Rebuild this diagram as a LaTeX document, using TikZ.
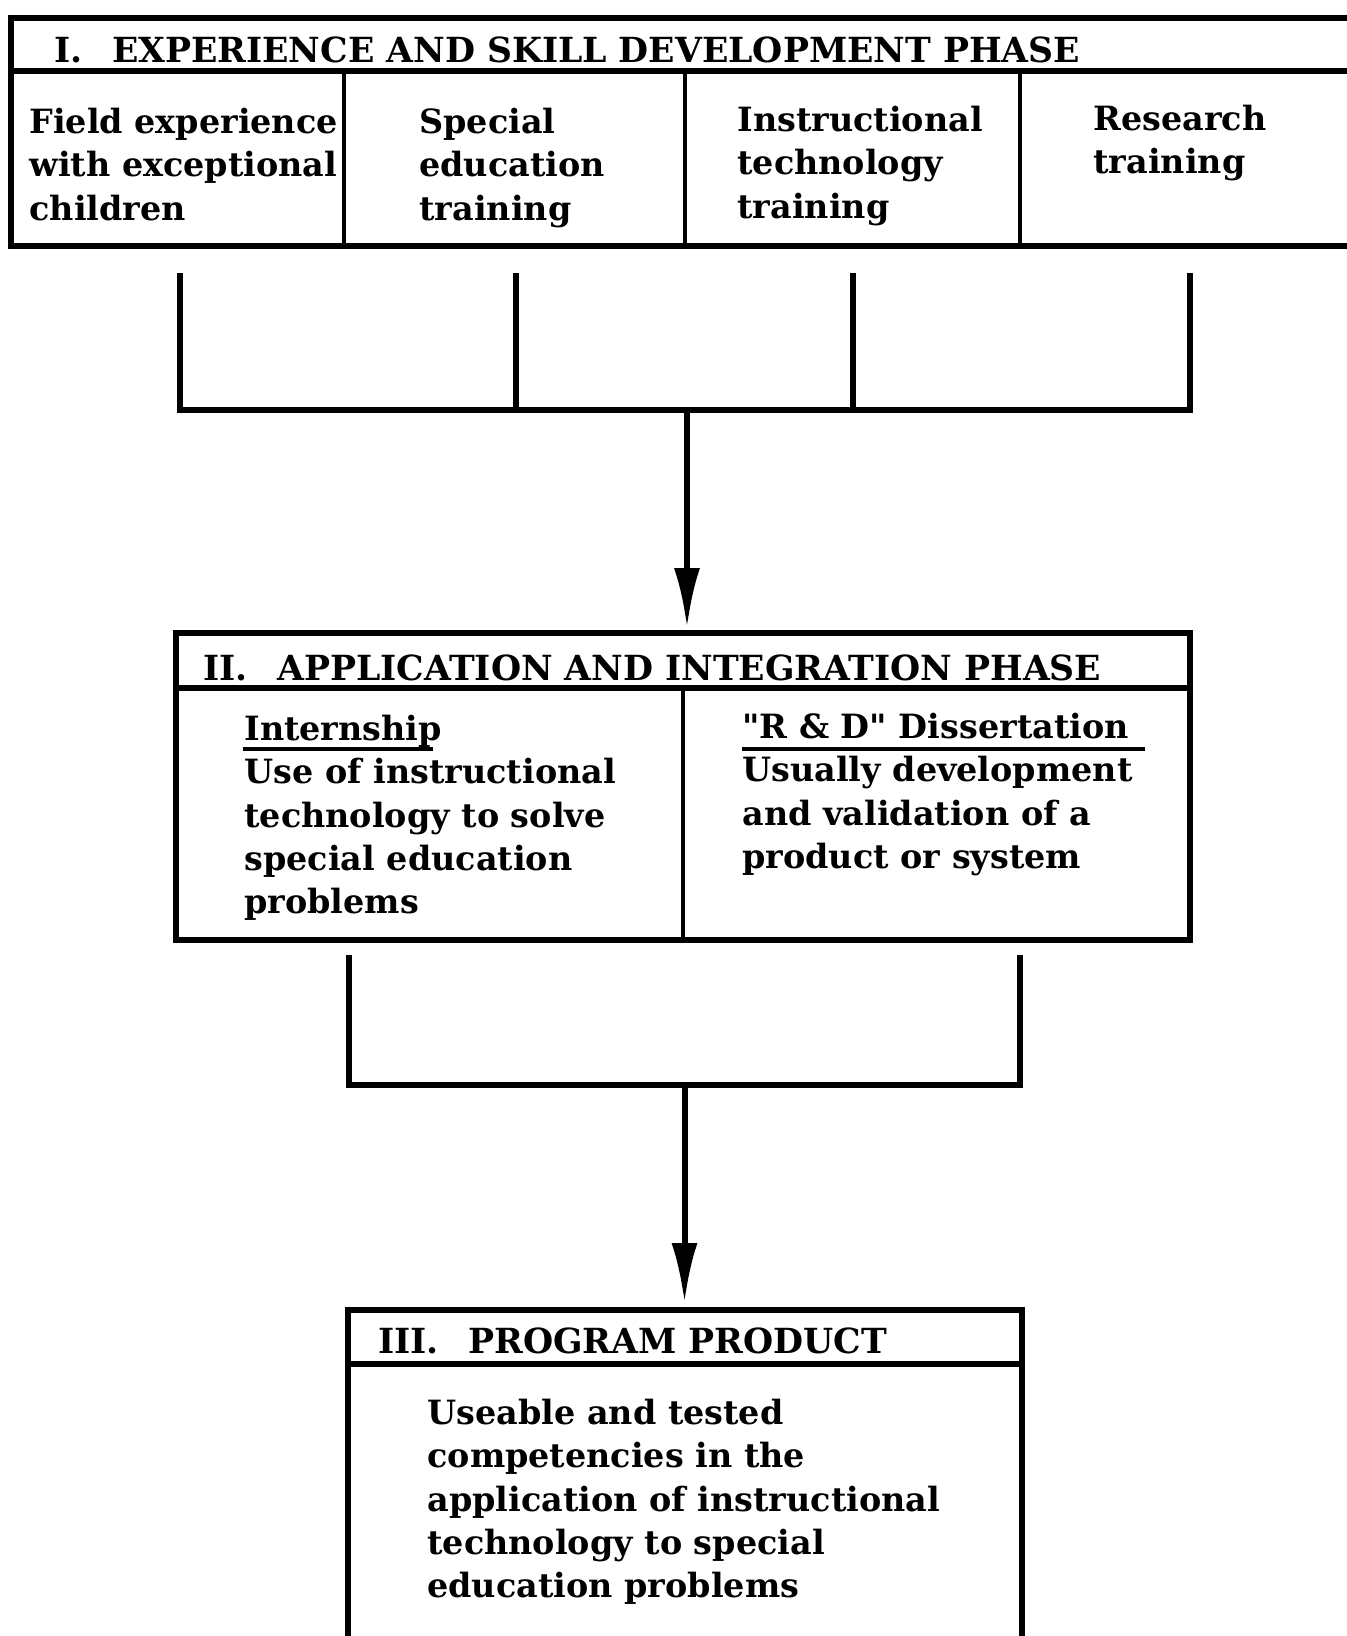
\documentclass[tikz,border=0pt]{standalone}
\usepackage{fontspec}
\setmainfont{DejaVu Serif}[Ligatures=TeXOff]
\usepackage{tikz}
\usetikzlibrary{arrows.meta,positioning,calc,fit}
\newcommand{\hdrfont}{\bfseries\fontsize{17.3}{22}\selectfont}
\newcommand{\txtfont}{\bfseries\fontsize{16.7}{21.6}\selectfont}
\newcommand{\numgap}{\hspace{0.85em}}
\tikzset{phase/.style={draw,line width=3pt,inner sep=0pt},rule/.style={line width=2.6pt},divider/.style={line width=2pt},hdr/.style={anchor=base west,inner sep=0pt,font=\hdrfont},txt/.style={anchor=north west,inner sep=0pt,align=left,font=\txtfont},link/.style={line width=3pt},arr/.style={link,-{Latex[length=30pt,width=13pt]}},uline/.style={line width=2pt}}
\begin{document}
\begin{tikzpicture}[x=0.5pt,y=-0.5pt]
\clip (0,0) rectangle (1347,1636);
\node[phase,fit={(11,18) (1365,246)}] (p1) {};
\draw[rule] (11,71) -- (1365,71);
\foreach \x in {344,685,1020} \draw[divider] (\x,71) -- (\x,246);
\node[hdr] (h1) at (54,63) {I.\numgap EXPERIENCE AND SKILL DEVELOPMENT PHASE};
\node[txt] (field) at (29,108) {Field experience\\with exceptional\\children};
\node[txt] (sped) at (419,108) {Special\\education\\training};
\node[txt] (instr) at (737,106) {Instructional\\technology\\training};
\node[txt] (res) at (1093,105) {Research\\training};
\foreach \x [count=\i] in {179.5,515.5,852.5,1189.5} {\coordinate (up\i) at (\x,273); \coordinate (dn\i) at (\x,410);}
\draw[link] (up1) -- (dn1) -- (dn4) -- (up4);
\draw[link] (up2) -- (dn2);\draw[link] (up3) -- (dn3);
\coordinate (j1) at (687,410);\coordinate (tip1) at (687,628);
\draw[arr] (j1) -- (tip1);
\node[phase,fit={(176,633) (1190,940)}] (p2) {};
\draw[rule] (176,688) -- (1190,688);
\draw[divider] (683,688) -- (683,940);
\node[hdr] (h2) at (203,680) {II.\numgap APPLICATION AND INTEGRATION PHASE};
\node[txt] (intern) at (244,715) {Internship\\Use of instructional\\technology to solve\\special education\\problems};
\node[txt] (diss) at (742,713) {"R \& D" Dissertation\\Usually development\\and validation of a\\product or system};
\draw[uline] (243,749) -- (433,749);
\draw[uline] (742,749) -- (1145,749);
\coordinate (up5) at (349,955);\coordinate (dn5) at (349,1085);
\coordinate (up6) at (1019.5,955);\coordinate (dn6) at (1019.5,1085);
\draw[link] (up5) -- (dn5) -- (dn6) -- (up6);
\coordinate (j2) at (684.5,1085);\coordinate (tip2) at (684.5,1303);
\draw[arr] (j2) -- (tip2);
\node[phase,fit={(348,1310) (1022,1660)}] (p3) {};
\draw[rule] (348,1364) -- (1022,1364);
\node[hdr] (h3) at (378,1353) {III.\numgap PROGRAM PRODUCT};
\node[txt] (prod) at (427,1399) {Useable and tested\\competencies in the\\application of instructional\\technology to special\\education problems};
\end{tikzpicture}
\end{document}
